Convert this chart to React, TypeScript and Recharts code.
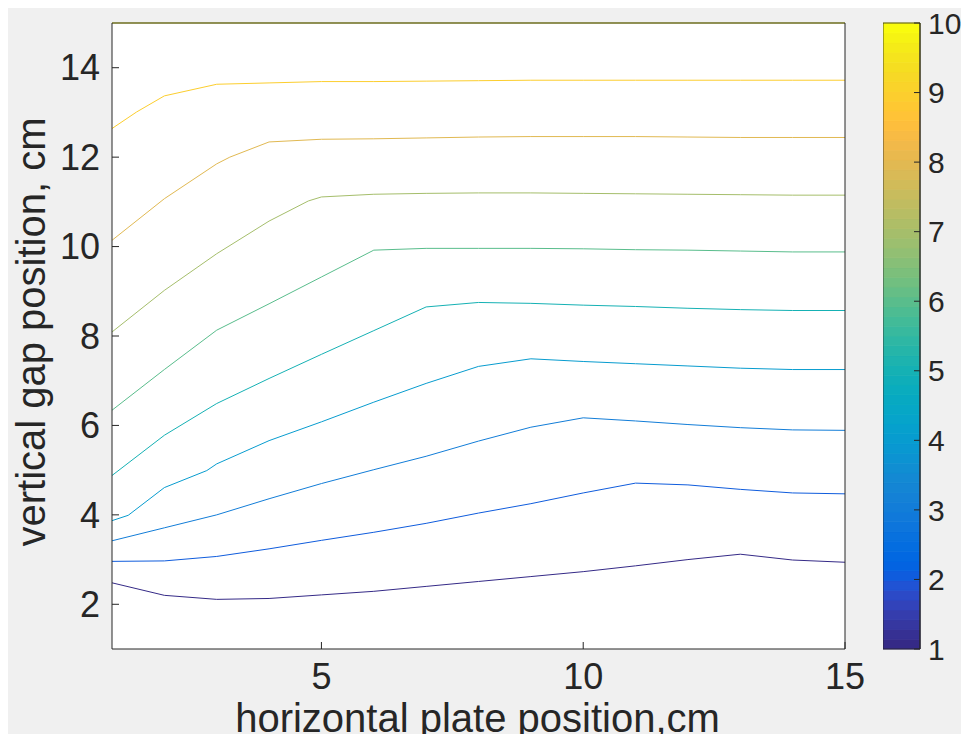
import React from 'react';
import { LineChart, Line, XAxis, YAxis, CartesianGrid, ComposedChart, ReferenceArea } from 'recharts';

const FONT = '"Liberation Sans", Arial, Helvetica, sans-serif';
const INK = '#262626';

// contour levels and their (x, y) vertices
const contourLevels = [1, 2, 3, 4, 5, 6, 7, 8, 9, 10];
const contour1: [number, number][] = [[1, 2.48], [2, 2.2], [3, 2.11], [4, 2.13], [5, 2.21], [6, 2.29], [7, 2.4], [8, 2.51], [9, 2.62], [10, 2.73], [11, 2.86], [12, 3.0], [13, 3.12], [14, 2.99], [15, 2.94]];
const contour2: [number, number][] = [[1, 2.96], [2, 2.97], [3, 3.07], [4, 3.24], [5, 3.43], [6, 3.61], [7, 3.81], [8, 4.04], [9, 4.25], [10, 4.49], [11, 4.71], [12, 4.67], [13, 4.57], [14, 4.49], [15, 4.47]];
const contour3: [number, number][] = [[1, 3.42], [2, 3.71], [3, 4.0], [4, 4.36], [5, 4.7], [6, 5.01], [7, 5.31], [8, 5.65], [9, 5.96], [10, 6.17], [11, 6.1], [12, 6.02], [13, 5.95], [14, 5.9], [15, 5.89]];
const contour4: [number, number][] = [[1, 3.87], [1.31, 3.99], [2, 4.61], [2.81, 4.99], [3, 5.14], [4, 5.66], [5, 6.08], [6, 6.52], [7, 6.94], [8, 7.32], [9, 7.49], [10, 7.43], [11, 7.38], [12, 7.33], [13, 7.28], [14, 7.25], [15, 7.25]];
const contour5: [number, number][] = [[1, 4.88], [2, 5.78], [3, 6.49], [4, 7.05], [5, 7.59], [6, 8.12], [7, 8.65], [8, 8.75], [9, 8.73], [10, 8.69], [11, 8.66], [12, 8.62], [13, 8.59], [14, 8.57], [15, 8.57]];
const contour6: [number, number][] = [[1, 6.34], [2, 7.25], [3, 8.13], [4, 8.72], [5, 9.32], [6, 9.92], [7, 9.96], [8, 9.96], [9, 9.96], [10, 9.95], [11, 9.93], [12, 9.92], [13, 9.9], [14, 9.88], [15, 9.88]];
const contour7: [number, number][] = [[1, 8.09], [2, 9.02], [3, 9.84], [4, 10.57], [4.75, 11.02], [5, 11.11], [6, 11.17], [7, 11.19], [8, 11.2], [9, 11.2], [10, 11.19], [11, 11.18], [12, 11.17], [13, 11.16], [14, 11.15], [15, 11.15]];
const contour8: [number, number][] = [[1, 10.14], [2, 11.07], [3, 11.85], [3.25, 12.0], [4, 12.34], [5, 12.4], [6, 12.41], [7, 12.43], [8, 12.45], [9, 12.46], [10, 12.46], [11, 12.46], [12, 12.45], [13, 12.44], [14, 12.44], [15, 12.44]];
const contour9: [number, number][] = [[1, 12.64], [1.47, 13.01], [2, 13.37], [3, 13.63], [4, 13.66], [5, 13.69], [6, 13.69], [7, 13.7], [8, 13.71], [9, 13.72], [10, 13.72], [11, 13.72], [12, 13.72], [13, 13.72], [14, 13.72], [15, 13.72]];
const contour10: [number, number][] = [[1, 15], [15, 15]];
const contours = [contour1, contour2, contour3, contour4, contour5, contour6, contour7, contour8, contour9, contour10];

const xTicks = [5, 10, 15];
const xTopTicks = [5, 10];
const yTicks = [2, 4, 6, 8, 10, 12, 14];
const colorbarTicks = [1, 2, 3, 4, 5, 6, 7, 8, 9, 10];
const colorMin = 1;
const colorMax = 10;

const parula = [
  '#352A87', '#363093', '#3637A0', '#353DAD', '#3243BA', '#2C4AC7', '#2053D4', '#0F5CDD',
  '#0363E1', '#0268E1', '#046DE0', '#0871DE', '#0D75DC', '#1079DA', '#127DD8', '#1481D6',
  '#1485D4', '#1389D3', '#108ED2', '#0C93D2', '#0998D1', '#079CCF', '#06A0CD', '#06A4CA',
  '#06A7C6', '#07A9C2', '#0AACBE', '#0FAEB9', '#15B1B4', '#1DB3AF', '#25B5A9', '#2EB7A4',
  '#38B99E', '#42BB98', '#4DBC92', '#59BD8C', '#65BE86', '#71BF80', '#7CBF7B', '#87BF77',
  '#92BF73', '#9CBF6F', '#A5BE6B', '#AEBE67', '#B7BD64', '#C0BC60', '#C8BC5D', '#D1BB59',
  '#D9BA56', '#E1B952', '#E9B94E', '#F1B94A', '#F8BB44', '#FDBE3D', '#FFC337', '#FEC832',
  '#FCCE2E', '#FAD32A', '#F7D826', '#F5DE21', '#F5E41D', '#F5EB18', '#F6F313', '#F9FB0E',
];

const levelColor = (level: number) => {
  const idx = Math.min(parula.length - 1, Math.floor(((level - colorMin) / (colorMax - colorMin)) * parula.length));
  return parula[idx];
};

const bands = parula.map((c, i) => ({
  y1: colorMin + (i * (colorMax - colorMin)) / parula.length,
  y2: colorMin + ((i + 1) * (colorMax - colorMin)) / parula.length,
  color: c,
}));
const bandData = bands.map((b) => ({ x: 0.5, y: (b.y1 + b.y2) / 2 }));

const tickStyle = { fill: INK, fontSize: 36, fontFamily: FONT };

const YLabel = (props: any) => {
  const vb = props.viewBox || { x: 0, y: 21, width: 104, height: 626 };
  const x = vb.x + 37;
  const y = vb.y + vb.height / 2 - 4;
  return (
    <text x={x} y={y} transform={`rotate(-90, ${x}, ${y})`} textAnchor="middle" fill={INK} fontSize={40} fontFamily={FONT}>
      vertical gap position, cm
    </text>
  );
};

const XLabel = (props: any) => {
  const vb = props.viewBox || { x: 104, y: 647, width: 733, height: 85 };
  return (
    <text x={vb.x + vb.width / 2 - 1} y={vb.y + 83} textAnchor="middle" fill={INK} fontSize={40} fontFamily={FONT}>
      horizontal plate position,cm
    </text>
  );
};

export default function App() {
  return (
    <div style={{ position: 'relative', width: 961, height: 732, marginTop: -6, background: '#F0F0F0', overflow: 'hidden' }}>
      <div style={{ position: 'absolute', left: 0, top: 0 }}>
        <LineChart width={961} height={732} margin={{ top: 20, right: 123, bottom: 0, left: 0 }}>
          <CartesianGrid horizontal={false} vertical={false} fill="#FFFFFF" />
          <XAxis
            xAxisId={0}
            dataKey="x"
            type="number"
            domain={[1, 15]}
            ticks={xTicks}
            interval={0}
            height={85}
            tickSize={-7}
            tickMargin={21}
            tick={tickStyle}
            tickLine={{ stroke: INK }}
            axisLine={{ stroke: INK }}
            label={{ content: XLabel }}
          />
          <XAxis
            xAxisId="top"
            orientation="top"
            type="number"
            domain={[1, 15]}
            ticks={xTopTicks}
            interval={0}
            height={1}
            tickSize={-7}
            tick={false}
            tickLine={{ stroke: INK }}
            axisLine={{ stroke: INK }}
          />
          <YAxis
            yAxisId={0}
            type="number"
            domain={[1, 15]}
            ticks={yTicks}
            interval={0}
            width={104}
            tickSize={-7}
            tickMargin={19}
            tick={tickStyle}
            tickLine={{ stroke: INK }}
            axisLine={{ stroke: INK }}
            label={{ content: YLabel }}
          />
          <YAxis
            yAxisId="right"
            orientation="right"
            type="number"
            domain={[1, 15]}
            ticks={yTicks}
            interval={0}
            width={1}
            tickSize={-7}
            tick={false}
            tickLine={{ stroke: INK }}
            axisLine={{ stroke: INK }}
          />
          {contours.map((pts, i) => (
            <Line
              key={`level-${contourLevels[i]}`}
              name={`level ${contourLevels[i]}`}
              xAxisId={0}
              yAxisId={0}
              data={pts.map(([x, y]) => ({ x, y }))}
              dataKey="y"
              type="linear"
              stroke={levelColor(contourLevels[i])}
              strokeWidth={1}
              dot={false}
              activeDot={false}
              isAnimationActive={false}
            />
          ))}
        </LineChart>
      </div>
      <div style={{ position: 'absolute', left: 875, top: 0 }}>
        <ComposedChart width={86} height={732} data={bandData} margin={{ top: 21, right: 0, bottom: 85, left: 0 }}>
          <XAxis dataKey="x" type="number" domain={[0, 1]} hide />
          {bands.map((b, i) => (
            <ReferenceArea key={i} x1={0} x2={1} y1={b.y1} y2={b.y2} fill={b.color} fillOpacity={1} stroke={b.color} strokeWidth={0.8} />
          ))}
          <ReferenceArea x1={0} x2={1} y1={colorMin} y2={colorMax} fill="none" stroke={INK} strokeOpacity={0.8} />
          <YAxis
            orientation="right"
            type="number"
            domain={[colorMin, colorMax]}
            ticks={colorbarTicks}
            interval={0}
            width={49}
            tickSize={-6}
            tickMargin={14}
            tick={{ fill: INK, fontSize: 30, fontFamily: FONT }}
            tickLine={{ stroke: INK }}
            axisLine={{ stroke: INK }}
          />
          <Line dataKey="y" stroke="none" dot={false} activeDot={false} isAnimationActive={false} />
        </ComposedChart>
      </div>
    </div>
  );
}
